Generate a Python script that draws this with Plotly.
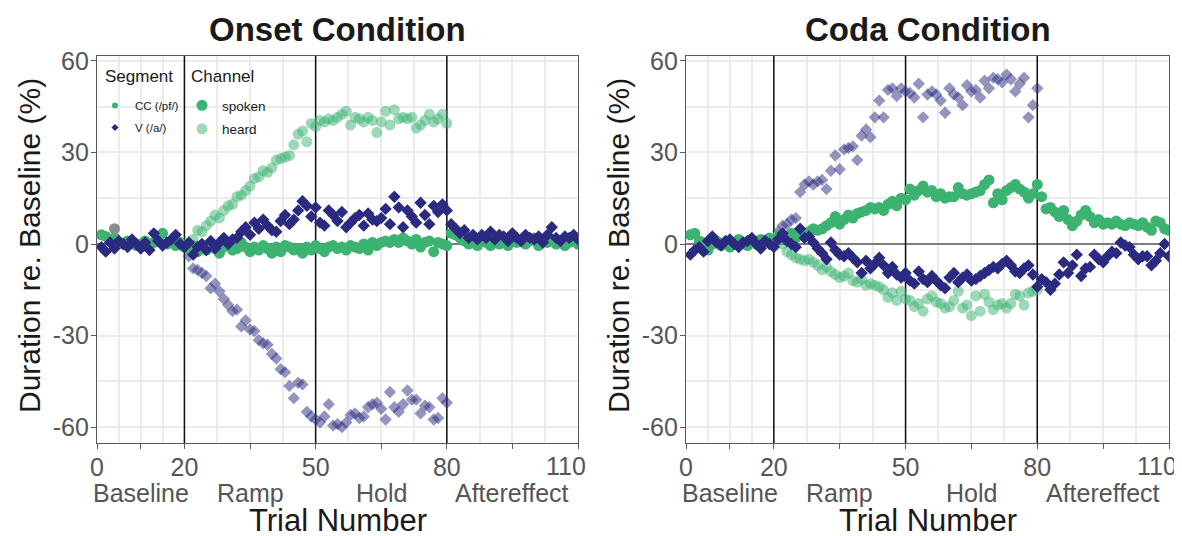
import plotly.graph_objects as go

# ---------------- data ----------------
trials = list(range(1, 111))
heard_trials = list(range(21, 81))

onset_cc_spoken = [
    3.0, 2.5, 1.0, 2.0, 0.5, 0.0, 1.0, 0.5, -0.5, 0.0,
    1.0, -0.5, 0.5, 1.5, 3.5, 0.0, 1.0, -0.5, 0.5, -1.0,
    -1.5, -0.5, -2.5, -1.0, -2.0, -0.5, -1.5, -3.0, -1.0, -0.5,
    -2.0, -1.5, 0.5, -1.0, -2.5, -1.0, -2.0, -0.5, -1.5, -3.0,
    -1.0, -2.5, -0.5, -1.0, -2.0, -1.5, -3.0, -1.0, -2.0, -0.5,
    -1.5, -2.5, -1.0, -0.5, -1.5, -1.0, -2.0, -0.5, -1.0, -1.5,
    0.0, -2.0, 0.5, -0.5, 0.5, 1.0, 0.5, 1.5, 0.5, 2.0,
    1.0, 0.0, 1.5, -1.0, 0.5, 1.0, -2.5, 0.5, 0.0, -0.5,
    3.5, 3.0, 2.0, 1.0, 0.0, 1.5, -0.5, 2.0, 0.5, -0.5,
    1.0, 0.0, 1.5, -0.5, 1.0, 0.5, 1.5, 0.0, 1.0, 2.0,
    -0.5, 1.0, 0.5, 1.5, 0.0, 1.0, -0.5, 0.5, 1.0, 0.0,
]
onset_v_spoken = [
    -1.0, -2.5, 0.5, -1.5, 1.0, 0.0, -1.0, 1.5, 0.0, -1.5,
    0.5, -2.0, 3.5, 1.0, -0.5, 0.5, 1.5, 3.0, 0.0, -1.0,
    0.5, -3.5, -1.0, 0.0, -2.0, 1.0, -1.5, 0.5, 2.0, 0.0,
    1.5, 2.0, 4.0, 5.5, 3.0, 7.0, 5.0, 8.0, 6.0, 4.5,
    4.0, 7.5, 9.5, 6.5, 8.0, 11.0, 14.0, 12.5, 9.0, 12.0,
    7.0, 6.0, 11.0, 9.5, 7.5, 10.5, 5.5, 7.0, 8.5, 9.5,
    6.0, 10.0, 8.0, 7.5, 8.5, 11.5, 6.5, 15.5, 12.0, 5.5,
    11.0, 9.0, 7.0, 13.5, 9.5, 6.5, 12.5, 10.5, 13.0, 11.0,
    6.5, 5.0, 3.5, 4.5, 2.0, 3.0, 1.5, 3.0, 2.0, 4.0,
    1.5, 3.0, 2.5, 1.0, 3.5, 2.0, 1.0, 3.0, 2.0, 1.5,
    2.5, 0.5, 3.0, 5.5, 2.0, 1.0, 2.5, 2.0, 3.0, 1.5,
]
onset_cc_heard = [
    0.0, 1.5, 4.5, 4.0, 6.0, 7.5, 9.5, 8.5, 11.0, 12.5,
    13.0, 15.5, 16.0, 17.5, 19.0, 21.5, 22.0, 24.0, 23.5, 25.0,
    27.5, 28.0, 28.5, 29.0, 32.5, 36.0, 37.0, 33.5, 39.5, 38.5,
    40.5, 40.0, 41.0, 40.5, 41.5, 42.5, 43.5, 39.0, 41.5, 41.0,
    40.0, 41.5, 40.5, 36.5, 40.0, 43.5, 39.0, 44.0, 41.0, 41.5,
    41.0, 41.5, 38.0, 39.0, 40.5, 42.5, 40.0, 41.0, 42.5, 39.5,
]
onset_v_heard = [
    -4.0, -8.0, -8.5, -9.5, -10.5, -14.5, -13.0, -15.5, -18.0, -20.0,
    -22.0, -21.5, -27.0, -25.0, -28.0, -28.5, -31.5, -32.5, -33.0, -36.0,
    -37.5, -41.0, -42.0, -46.5, -50.5, -45.5, -46.0, -55.0, -56.5, -57.5,
    -58.5, -56.5, -52.5, -59.5, -59.0, -60.0, -58.5, -56.0, -55.5, -57.0,
    -56.5, -53.5, -52.5, -52.0, -54.0, -57.5, -48.5, -53.5, -55.0, -52.5,
    -48.0, -51.0, -51.0, -55.5, -53.0, -53.5, -57.5, -57.0, -50.5, -52.0,
]
onset_extra_trial = [4]
onset_extra_value = [5.0]

coda_cc_spoken = [
    3.0, 3.5, 1.0, 0.5, -2.0, 0.0, 1.0, -0.5, 0.5, -1.0,
    0.0, 1.5, 0.5, -0.5, 1.0, 0.0, 1.5, 0.5, 2.0, 1.0,
    3.0, 1.5, 2.5, 3.5, 2.0, 4.0, 3.0, 4.0, 5.0, 4.5,
    5.0, 6.0, 7.0, 9.0, 6.5, 8.0, 9.5, 8.5, 10.0, 10.5,
    11.0, 12.0, 11.5, 12.0, 11.0, 13.0, 14.0, 12.5, 15.0, 14.5,
    18.0, 16.0, 17.5, 19.0, 17.0, 17.5, 15.5, 16.5, 15.0, 15.5,
    15.5, 18.5, 16.5, 16.0, 16.5, 17.0, 17.5, 19.5, 21.0, 13.5,
    16.5, 14.5, 17.5, 18.5, 19.5, 18.0, 17.0, 15.0, 16.5, 19.5,
    15.5, 11.5, 12.0, 10.5, 9.0, 11.0, 8.0, 6.0, 7.5, 9.5,
    11.0, 9.0, 7.0, 8.0, 6.5, 7.0, 6.5, 7.5, 6.5, 6.0,
    7.0, 6.5, 6.0, 7.0, 5.5, 4.5, 7.5, 7.0, 5.0, 4.5,
]
coda_v_spoken = [
    -3.5, -2.0, -1.0, -2.5, 1.0, 2.5, 0.5, -0.5, 1.0, 1.5,
    0.0, -1.0, 0.5, 1.0, 2.0, 0.0, -1.5, 1.0, 0.0, -1.0,
    1.5, 3.5, 1.0, 0.0, -1.0, 5.0, 2.0, 2.5, 0.5, -1.5,
    -3.0, -5.0, 0.5, -2.0, -3.5, -4.0, -3.0, -4.5, -6.0, -9.5,
    -5.5, -8.0, -6.5, -4.5, -7.0, -9.5, -7.5, -10.0, -11.0, -9.5,
    -12.0, -13.0, -9.0, -11.5, -12.5, -10.5, -12.0, -13.5, -14.5, -11.0,
    -9.5, -12.5, -11.0, -10.0, -12.0, -11.5, -10.5, -9.5, -8.5, -7.5,
    -8.0, -6.5, -5.5, -7.0, -9.0, -9.5, -8.0, -7.0, -10.0, -14.0,
    -11.5, -12.5, -15.0, -13.0, -10.0, -6.0, -9.5, -7.0, -3.5, -10.5,
    -8.0, -7.5, -3.5, -5.0, -6.0, -4.0, -2.5, -3.0, 0.5, -0.5,
    -1.0, -3.5, -5.0, -4.0, -4.0, -7.0, -5.5, -3.0, 0.0, -4.0,
]
coda_cc_heard = [
    1.0, 0.0, -2.5, -3.5, -4.5, -5.0, -5.5, -5.0, -6.0, -7.0,
    -8.5, -7.5, -9.0, -10.0, -11.0, -10.5, -9.5, -12.0, -12.5, -11.5,
    -13.5, -13.0, -13.5, -14.0, -15.0, -17.5, -16.0, -18.5, -15.5, -18.0,
    -18.5, -20.5, -19.5, -22.0, -18.0, -17.0, -19.0, -19.5, -21.0, -20.5,
    -18.5, -15.5, -21.0, -20.0, -23.5, -17.0, -22.0, -16.5, -19.0, -21.5,
    -20.0, -19.5, -21.0, -19.5, -16.5, -17.0, -20.0, -16.0, -15.5, -15.0,
]
coda_v_heard = [
    4.0, 6.0, 6.5, 8.0, 8.5, 17.0, 19.5, 20.5, 19.5, 20.5,
    21.0, 18.0, 24.0, 29.0, 24.5, 31.0, 31.5, 32.0, 27.5, 35.5,
    37.5, 35.0, 41.5, 47.0, 41.5, 50.5, 51.0, 48.5, 51.0, 50.0,
    49.5, 48.0, 52.5, 41.5, 49.0, 50.0, 49.0, 47.0, 43.0, 51.0,
    49.0, 48.0, 45.5, 52.0, 50.0, 50.5, 48.0, 53.5, 51.0, 54.5,
    54.0, 53.0, 55.5, 54.0, 50.0, 52.5, 54.5, 41.5, 45.5, 51.0,
]

panel_titles = ["Onset Condition", "Coda Condition"]
phase_boundaries = [20, 50, 80]
x_tick_vals = [0, 10, 20, 35, 50, 65, 80, 95, 110]
x_tick_text = ["0", "", "20", "", "50", "", "80", "", ""]
x_last_tick = 110          # label drawn right-aligned so it stays inside the page
x_last_label = "110"
x_minor_vals = [5, 15, 27.5, 42.5, 57.5, 72.5, 87.5, 102.5]
phase_pos = [10, 35, 65, 95]
phase_names = ["Baseline", "Ramp", "Hold", "Aftereffect"]
y_tick_vals = [-60, -30, 0, 30, 60]
y_minor_vals = [-45, -15, 15, 45]
x_range = [0, 110]
y_range = [-65.2, 61.6]

# ---------------- style ----------------
# The page body keeps an 8px margin, so the figure is laid out 8px smaller and
# every target pixel position is shifted by OFF.
OFF = 8
W, H = 1182 - OFF, 536 - OFF
GREEN = "#3CB371"
NAVY = "#2A2B80"
GRAY_TXT = "#555555"
FONT = "Liberation Sans, Arial, Helvetica, sans-serif"
CIRC = 11
DIAM = 9.5
HEARD_ALPHA = 0.5


def px_x(v):
    return (v - OFF) / W


def px_y(v):
    return 1 - (v - OFF) / H


px_left = [(97, 578), (686, 1169)]
px_top, px_bottom = 56, 443
dom_y = [px_y(px_bottom), px_y(px_top)]

fig = go.Figure()

panels = [
    ("x", "y", onset_cc_spoken, onset_v_spoken, onset_cc_heard, onset_v_heard),
    ("x2", "y2", coda_cc_spoken, coda_v_spoken, coda_cc_heard, coda_v_heard),
]

for i, (xa, ya, ccs, vs, cch, vh) in enumerate(panels):
    for b in phase_boundaries:
        fig.add_trace(go.Scatter(x=[b, b], y=y_range, mode="lines", xaxis=xa, yaxis=ya,
                                 line=dict(color="#111111", width=1.5), showlegend=False,
                                 hoverinfo="skip"))
    fig.add_trace(go.Scatter(x=x_range, y=[0, 0], mode="lines", xaxis=xa, yaxis=ya,
                             line=dict(color="#111111", width=1.1), showlegend=False,
                             hoverinfo="skip"))
    fig.add_trace(go.Scatter(x=heard_trials, y=cch, mode="markers", xaxis=xa, yaxis=ya,
                             marker=dict(symbol="circle", size=CIRC, color=GREEN, opacity=HEARD_ALPHA,
                                         line=dict(width=0)), showlegend=False, hoverinfo="x+y"))
    fig.add_trace(go.Scatter(x=heard_trials, y=vh, mode="markers", xaxis=xa, yaxis=ya,
                             marker=dict(symbol="diamond", size=DIAM, color=NAVY, opacity=HEARD_ALPHA,
                                         line=dict(width=0)), showlegend=False, hoverinfo="x+y"))
    fig.add_trace(go.Scatter(x=trials, y=ccs, mode="markers", xaxis=xa, yaxis=ya,
                             marker=dict(symbol="circle", size=CIRC, color=GREEN, line=dict(width=0)),
                             showlegend=False, hoverinfo="x+y"))
    fig.add_trace(go.Scatter(x=trials, y=vs, mode="markers", xaxis=xa, yaxis=ya,
                             marker=dict(symbol="diamond", size=DIAM, color=NAVY, line=dict(width=0)),
                             showlegend=False, hoverinfo="x+y"))
    if i == 0:
        fig.add_trace(go.Scatter(x=onset_extra_trial, y=onset_extra_value, mode="markers",
                                 xaxis=xa, yaxis=ya,
                                 marker=dict(symbol="circle", size=CIRC, color="#8C8C8C", line=dict(width=0)),
                                 showlegend=False, hoverinfo="x+y"))

# legend entries
fig.add_trace(go.Scatter(x=[None], y=[None], mode="markers", name="CC (/pf/)", legend="legend",
                         legendgroup="a",
                         marker=dict(symbol="circle", size=6, color=GREEN, line=dict(width=0))))
fig.add_trace(go.Scatter(x=[None], y=[None], mode="markers", name="V (/a/)", legend="legend",
                         legendgroup="b",
                         marker=dict(symbol="diamond", size=5.5, color=NAVY, line=dict(width=0))))
fig.add_trace(go.Scatter(x=[None], y=[None], mode="markers", name="spoken", legend="legend2",
                         legendgroup="c",
                         marker=dict(symbol="circle", size=11, color=GREEN, line=dict(width=0))))
fig.add_trace(go.Scatter(x=[None], y=[None], mode="markers", name="heard", legend="legend2",
                         legendgroup="d",
                         marker=dict(symbol="circle", size=11, color=GREEN, opacity=HEARD_ALPHA,
                                     line=dict(width=0))))

axis_line = dict(showline=True, linecolor="#5A5A5A", linewidth=1.3, mirror=True,
                 ticks="outside", ticklen=5, tickwidth=1.3, tickcolor="#5A5A5A",
                 showgrid=True, gridcolor="#EBEBEB", gridwidth=2.0, zeroline=False,
                 automargin=False, ticklabeloverflow="allow", ticklabelstandoff=-3,
                 tickfont=dict(size=25, color=GRAY_TXT, family=FONT))

for i in range(2):
    sx = "" if i == 0 else "2"
    l, r = px_left[i]
    fig.update_layout(**{
        "xaxis" + sx: dict(domain=[px_x(l), px_x(r)], range=x_range, anchor="y" + sx,
                           tickmode="array", tickvals=x_tick_vals, ticktext=x_tick_text,
                           minor=dict(tickmode="array", tickvals=x_minor_vals, showgrid=True,
                                      gridcolor="#EBEBEB", gridwidth=1.7, ticks=""),
                           **axis_line),
        "yaxis" + sx: dict(domain=dom_y, range=y_range, anchor="x" + sx,
                           tickmode="array", tickvals=y_tick_vals,
                           ticktext=[str(v) for v in y_tick_vals],
                           minor=dict(tickmode="array", tickvals=y_minor_vals, showgrid=True,
                                      gridcolor="#EBEBEB", gridwidth=1.7, ticks=""),
                           **axis_line),
    })
    xref = "x" + sx
    cx = px_x((l + r) / 2)
    fig.add_annotation(text="<b>" + panel_titles[i] + "</b>", xref="paper", yref="paper",
                       x=cx, y=px_y(29), xanchor="center", yanchor="middle", showarrow=False,
                       font=dict(size=33, color="#1A1A1A", family=FONT))
    fig.add_annotation(text="Trial Number", xref="paper", yref="paper",
                       x=cx, y=px_y(520), xanchor="center", yanchor="middle", showarrow=False,
                       font=dict(size=31, color="#1A1A1A", family=FONT))
    fig.add_annotation(text="Duration re. Baseline (%)", xref="paper", yref="paper",
                       x=px_x(l - 67), y=px_y(246), xanchor="center", yanchor="middle",
                       textangle=-90, showarrow=False,
                       font=dict(size=30, color="#1A1A1A", family=FONT))
    # last x tick label, right-aligned a little past the tick
    fig.add_annotation(text=x_last_label, xref=xref, yref="paper", x=x_last_tick, y=px_y(466),
                       xanchor="right", yanchor="middle", xshift=10, showarrow=False,
                       font=dict(size=25, color=GRAY_TXT, family=FONT))
    for p, name in zip(phase_pos, phase_names):
        fig.add_annotation(text=name, xref=xref, yref="paper", x=p, y=px_y(493),
                           xanchor="center", yanchor="middle", showarrow=False,
                           font=dict(size=25, color=GRAY_TXT, family=FONT))

# legend titles
fig.add_annotation(text="Segment", xref="paper", yref="paper", x=px_x(103), y=px_y(77),
                   xanchor="left", yanchor="middle", showarrow=False,
                   font=dict(size=17, color="#1A1A1A", family=FONT))
fig.add_annotation(text="Channel", xref="paper", yref="paper", x=px_x(189), y=px_y(77),
                   xanchor="left", yanchor="middle", showarrow=False,
                   font=dict(size=17, color="#1A1A1A", family=FONT))

fig.update_layout(
    width=W, height=H, margin=dict(l=0, r=0, t=0, b=0, autoexpand=False),
    paper_bgcolor="white", plot_bgcolor="white",
    font=dict(family=FONT, color="#1A1A1A"),
    legend=dict(x=px_x(95), y=px_y(91), xanchor="left", yanchor="top",
                bgcolor="rgba(0,0,0,0)", borderwidth=0, tracegroupgap=3,
                font=dict(size=11.5, color="#1A1A1A", family=FONT),
                itemclick=False, itemdoubleclick=False),
    legend2=dict(x=px_x(182), y=px_y(90), xanchor="left", yanchor="top",
                 bgcolor="rgba(0,0,0,0)", borderwidth=0, tracegroupgap=3,
                 font=dict(size=13.5, color="#1A1A1A", family=FONT),
                 itemclick=False, itemdoubleclick=False),
)

fig.write_html("out.html", config={"displayModeBar": False})
